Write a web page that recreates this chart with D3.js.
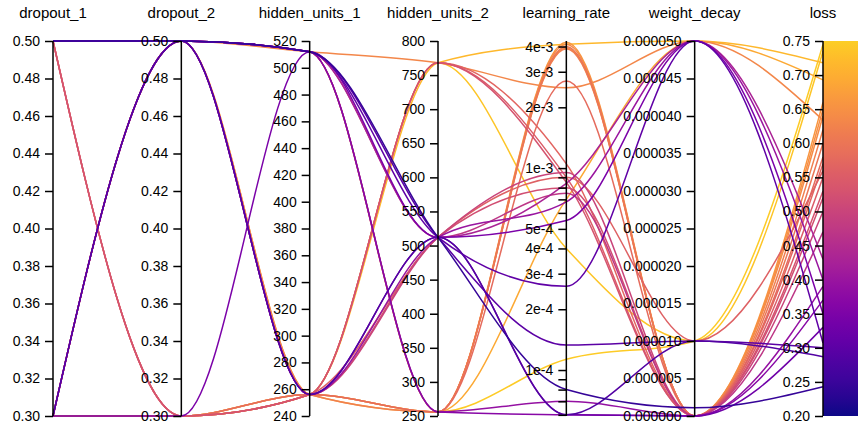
<!DOCTYPE html>
<html>
<head>
<meta charset="utf-8">
<script src="https://cdn.jsdelivr.net/npm/d3@7"></script>
<style>
  html, body { margin: 0; padding: 0; background: #fff; }
  svg { display: block; font-family: "Liberation Sans", Arial, sans-serif; }
</style>
</head>
<body>
<svg id="chart" width="858" height="429"></svg>
<script>
// ---- data (one entry per trial) ----
const dimensions = ["dropout_1", "dropout_2", "hidden_units_1", "hidden_units_2", "learning_rate", "weight_decay", "loss"];
const dropout1 =      [0.3, 0.3, 0.3, 0.5, 0.3, 0.5, 0.3, 0.5, 0.3, 0.5, 0.5, 0.3, 0.3, 0.5, 0.5, 0.5, 0.3, 0.3, 0.3, 0.3, 0.5, 0.5, 0.3, 0.3, 0.5, 0.5, 0.5, 0.3];
const dropout2 =      [0.3, 0.3, 0.3, 0.5, 0.5, 0.5, 0.5, 0.5, 0.3, 0.5, 0.5, 0.5, 0.5, 0.5, 0.3, 0.5, 0.3, 0.5, 0.5, 0.3, 0.3, 0.3, 0.5, 0.5, 0.3, 0.5, 0.5, 0.3];
const hiddenUnits1 =  [256, 256, 256, 512, 256, 512, 256, 512, 512, 512, 512, 256, 256, 512, 256, 512, 256, 256, 512, 256, 256, 256, 256, 256, 256, 512, 512, 256];
const hiddenUnits2 =  [768, 256, 768, 768, 256, 512, 512, 512, 512, 512, 512, 512, 512, 256, 512, 256, 256, 256, 256, 256, 768, 768, 512, 512, 768, 512, 256, 256];
const learningRate =  [4.1e-3, 1.13e-4, 4.0e-4, 2.5e-3, 7.0e-4, 2.6e-4, 6.8e-4, 8.4e-4, 5.5e-4, 1.33e-4, 8.0e-5, 6.0e-5, 6.0e-5, 7.0e-5, 9.0e-4, 4.2e-3, 4.1e-3, 3.9e-3, 4.0e-3, 2.7e-3, 9.0e-4, 8.5e-4, 8.0e-4, 9.5e-4, 1.05e-3, 7.5e-4, 6.0e-5, 3.95e-3];
const weightDecay =   [5e-5, 1e-5, 1e-5, 5e-5, 5e-5, 5e-5, 5e-5, 5e-5, 5e-5, 1e-5, 1.1e-6, 1e-5, 0, 0, 1e-5, 0, 0, 0, 0, 0, 0, 0, 0, 0, 0, 0, 0, 0];
const loss =          [0.718, 0.745, 0.735, 0.634, 0.693, 0.307, 0.40, 0.43, 0.35, 0.30, 0.243, 0.287, 0.33, 0.39, 0.56, 0.66, 0.64, 0.62, 0.60, 0.58, 0.55, 0.53, 0.52, 0.50, 0.57, 0.47, 0.37, 0.65];

const dropoutTicks = [0.30, 0.32, 0.34, 0.36, 0.38, 0.40, 0.42, 0.44, 0.46, 0.48, 0.50];
const hidden1Ticks = [240, 260, 280, 300, 320, 340, 360, 380, 400, 420, 440, 460, 480, 500, 520];
const hidden2Ticks = [250, 300, 350, 400, 450, 500, 550, 600, 650, 700, 750, 800];
const lrTicks = [6e-5, 7e-5, 8e-5, 9e-5, 1e-4, 2e-4, 3e-4, 4e-4, 5e-4, 6e-4, 7e-4, 8e-4, 9e-4, 1e-3, 2e-3, 3e-3, 4e-3];
const wdTicks = [0, 0.000005, 0.00001, 0.000015, 0.00002, 0.000025, 0.00003, 0.000035, 0.00004, 0.000045, 0.00005];
const lossTicks = [0.20, 0.25, 0.30, 0.35, 0.40, 0.45, 0.50, 0.55, 0.60, 0.65, 0.70, 0.75];

// ---- layout ----
const svg = d3.select("#chart");
const yTop = 41, yBottom = 416;
const x = d3.scalePoint().domain(dimensions).range([53, 823]);

const scales = {
  dropout_1: d3.scaleLinear().domain([0.30, 0.50]).range([yBottom, yTop]),
  dropout_2: d3.scaleLinear().domain([0.30, 0.50]).range([yBottom, yTop]),
  hidden_units_1: d3.scaleLinear().domain([240, 520]).range([yBottom, yTop]),
  hidden_units_2: d3.scaleLinear().domain([250, 800]).range([yBottom, yTop]),
  learning_rate: d3.scaleLog().domain([5.92e-5, 4.26e-3]).range([yBottom, yTop]),
  weight_decay: d3.scaleLinear().domain([0, 0.00005]).range([yBottom, yTop]),
  loss: d3.scaleLinear().domain([0.20, 0.75]).range([yBottom, yTop])
};
const columns = {
  dropout_1: dropout1, dropout_2: dropout2, hidden_units_1: hiddenUnits1,
  hidden_units_2: hiddenUnits2, learning_rate: learningRate, weight_decay: weightDecay, loss: loss
};
const color = v => d3.interpolatePlasma((v - 0.20) / 0.55 * 0.9);

// ---- lines ----
const trials = d3.range(loss.length).sort((a, b) => loss[b] - loss[a]);
const line = d3.line().curve(d3.curveMonotoneX).x(d => d[0]).y(d => d[1]);
svg.append("g").selectAll("path").data(trials).join("path")
  .attr("d", i => line(dimensions.map(dim => [x(dim), scales[dim](columns[dim][i])])))
  .attr("fill", "none")
  .attr("stroke", i => color(loss[i]))
  .attr("stroke-width", 1.5);

// ---- colorbar ----
const defs = svg.append("defs");
const grad = defs.append("linearGradient").attr("id", "cb").attr("x1", 0).attr("y1", 1).attr("x2", 0).attr("y2", 0);
d3.range(0, 1.0001, 0.05).forEach(t => {
  grad.append("stop").attr("offset", t).attr("stop-color", d3.interpolatePlasma(t * 0.9));
});
svg.append("rect").attr("x", x("loss")).attr("y", yTop).attr("width", 40).attr("height", yBottom - yTop).attr("fill", "url(#cb)");

// ---- axes ----
const tickFormats = {
  dropout_1: d3.format(".2f"), dropout_2: d3.format(".2f"),
  hidden_units_1: d3.format("d"), hidden_units_2: d3.format("d"),
  learning_rate: v => {
    const e = Math.floor(Math.log10(v) + 1e-9);
    const m = Math.round(v / Math.pow(10, e));
    return m <= 5 ? m + "e" + e : "";
  },
  weight_decay: d3.format(".6f"), loss: d3.format(".2f")
};
const tickValues = {
  dropout_1: dropoutTicks, dropout_2: dropoutTicks, hidden_units_1: hidden1Ticks,
  hidden_units_2: hidden2Ticks, learning_rate: lrTicks, weight_decay: wdTicks, loss: lossTicks
};
dimensions.forEach(dim => {
  const g = svg.append("g").attr("transform", `translate(${x(dim)},0)`);
  const ax = d3.axisLeft(scales[dim]).tickValues(tickValues[dim]).tickFormat(tickFormats[dim]).tickSize(8).tickPadding(5);
  g.call(ax);
  g.select(".domain").attr("stroke", "#000").attr("stroke-width", 1.5).attr("d", `M0,${yTop}V${yBottom}`);
  g.selectAll(".tick line").attr("stroke", "#000").attr("stroke-width", 1.5);
  g.selectAll(".tick text").attr("fill", "#000").style("font-size", "14px").style("font-family", "'Liberation Sans', Arial, sans-serif");
  svg.append("text").attr("x", x(dim)).attr("y", 18).attr("text-anchor", "middle")
    .style("font-size", "15px").attr("fill", "#000").text(dim);
});
</script>
</body>
</html>
